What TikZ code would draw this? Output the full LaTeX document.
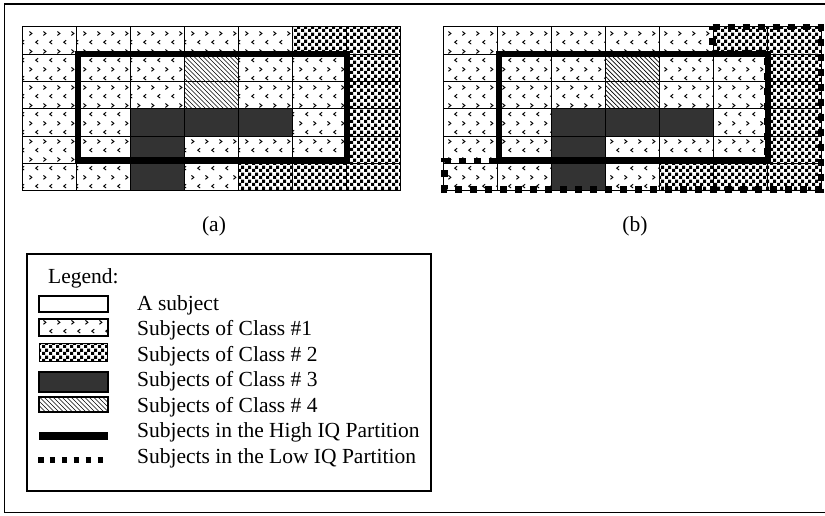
\documentclass[tikz,border=0pt]{standalone}
\usepackage{fontspec}
\setmainfont{Liberation Serif}
\usetikzlibrary{patterns}

% Class 1: small scattered chevrons
\pgfdeclarepatternformonly{confetti}{\pgfqpoint{0pt}{0pt}}{\pgfqpoint{13.5pt}{18pt}}{\pgfqpoint{13.5pt}{18pt}}{%
  \pgfsetlinewidth{1pt}%
  \pgfpathmoveto{\pgfqpoint{2.5pt}{16pt}}\pgfpathlineto{\pgfqpoint{5pt}{14pt}}\pgfpathlineto{\pgfqpoint{2.5pt}{12pt}}%
  \pgfpathmoveto{\pgfqpoint{11.5pt}{7pt}}\pgfpathlineto{\pgfqpoint{9pt}{5pt}}\pgfpathlineto{\pgfqpoint{11.5pt}{3pt}}%
  \pgfusepath{stroke}}
% Class 2: fine checkerboard
\pgfdeclarepatternformonly{checks}{\pgfqpoint{0pt}{0pt}}{\pgfqpoint{7pt}{7pt}}{\pgfqpoint{7pt}{7pt}}{%
  \pgfpathrectangle{\pgfqpoint{0pt}{0pt}}{\pgfqpoint{3.5pt}{3.5pt}}%
  \pgfpathrectangle{\pgfqpoint{3.5pt}{3.5pt}}{\pgfqpoint{3.5pt}{3.5pt}}%
  \pgfusepath{fill}}
% Class 4: thin diagonal hatching
\pgfdeclarepatternformonly{hatch}{\pgfqpoint{-1pt}{-1pt}}{\pgfqpoint{5.5pt}{5.5pt}}{\pgfqpoint{4.5pt}{4.5pt}}{%
  \pgfsetlinewidth{0.7pt}%
  \pgfpathmoveto{\pgfqpoint{0pt}{4.5pt}}\pgfpathlineto{\pgfqpoint{4.6pt}{-0.1pt}}%
  \pgfusepath{stroke}}

\definecolor{cls3}{gray}{0.2}

\tikzset{
  cell/.style={draw=black, line width=1pt},
  c1/.style={pattern=confetti},
  c2/.style={pattern=checks},
  c3/.style={fill=cls3},
  c4/.style={pattern=hatch},
  highiq/.style={draw=black, line width=6pt},
  lowiq/.style={draw=black, line width=6.5pt, dash pattern=on 7pt off 8pt},
  swatch/.style={draw=black, line width=2pt},
  lbl/.style={font=\fontsize{21.5}{25}\selectfont, inner sep=0pt},
  legtext/.style={lbl, anchor=base west},
}

% 7 x 6 grid of subjects whose left edge is at #1
\newcommand\subjectgrid[1]{%
  \foreach \codes [count=\r from 0] in {{1,1,1,1,1,2,2},{1,1,1,4,1,1,2},{1,1,1,4,1,1,2},{1,1,3,3,3,1,2},{1,1,3,1,1,1,2},{1,1,3,1,2,2,2}}{%
    \foreach \c [count=\k from 0] in \codes {%
      \draw[cell, c\c] ({#1+\k*53.9},{26.8+\r*27.3}) rectangle ++(53.9,27.3);
    }%
  }%
}

\begin{document}
\begin{tikzpicture}[x=1pt,y=-1pt]
  \useasboundingbox (0,0) rectangle (825,515);
  % outer frame
  \draw[line width=1.5pt] (4.5,4) rectangle (840,512.5);

  % (a)
  \subjectgrid{22.7}
  \draw[highiq] (77.5,53.7) rectangle (346.5,160);
  \node[lbl] (capa) at (214,226) {(a)};

  % (b)
  \subjectgrid{443.8}
  \draw[lowiq] (712.7,26.8) -- (821,26.8) -- (821,189.5) -- (444.5,189.5)
               -- (444.5,161) -- (767.5,161) -- (767.5,53.7) -- (712.7,53.7) -- cycle;
  \draw[highiq] (498.5,53.7) rectangle (767.5,160);
  \node[lbl] (capb) at (635,226) {(b)};

  % legend
  \draw[line width=1.5pt] (27,254) rectangle (431,491);
  \node[legtext] (leg) at (48,283) {Legend:};
  \draw[swatch, fill=white] (39,295.5) rectangle (107.5,311.5);
  \node[legtext] (l0) at (137,310) {A subject};
  \draw[swatch, c1] (39,319) rectangle (107.5,336);
  \node[legtext] (l1) at (137,335.5) {Subjects of Class \#1};
  \draw[swatch, c2, line width=1pt] (39,343.5) rectangle (107.5,361.5);
  \node[legtext] (l2) at (137,361) {Subjects of Class \# 2};
  \draw[swatch, c3] (39,372) rectangle (107.5,391.5);
  \node[legtext] (l3) at (137,386.5) {Subjects of Class \# 3};
  \draw[swatch, c4] (39,397) rectangle (107.5,411.5);
  \node[legtext] (l4) at (137,412) {Subjects of Class \# 4};
  \draw[line width=8pt] (39,436) -- (108,436);
  \node[legtext] (l5) at (137,437.5) {Subjects in the High IQ Partition};
  \draw[line width=6.5pt, dash pattern=on 5.5pt off 6.4pt] (38,460) -- (103.5,460);
  \node[legtext] (l6) at (137,463) {Subjects in the Low IQ Partition};
\end{tikzpicture}
\end{document}
